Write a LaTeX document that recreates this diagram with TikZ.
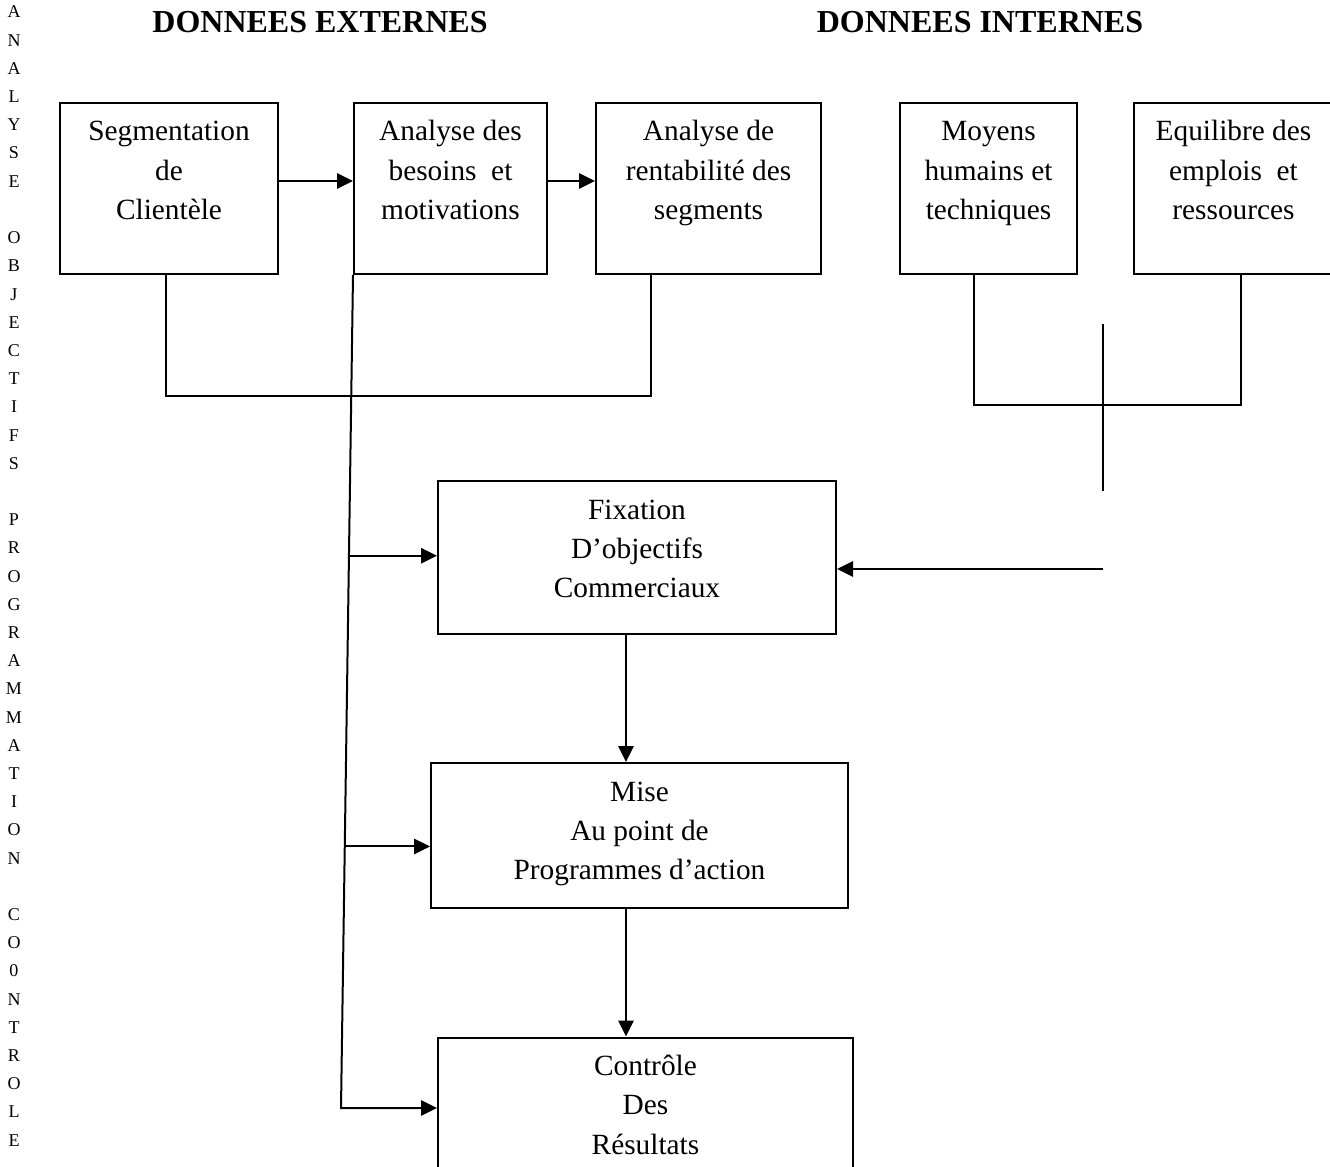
\documentclass[tikz,border=0pt]{standalone}
\usepackage{fontspec}
\setmainfont{Liberation Serif}
\usetikzlibrary{arrows.meta,calc}

% box of fixed size, text set from the top
\newcommand{\cellbox}[3]{\parbox[c][#2][t]{#1}{\centering\vspace*{12.5pt}\rule{0pt}{16pt}\ignorespaces#3\par}}

\begin{document}
\begin{tikzpicture}[x=0.75pt,y=-0.75pt,
  box/.style={draw,line width=1.5pt,inner sep=0pt,font=\fontsize{22}{29.6}\selectfont},
  link/.style={line width=1.5pt},
  arr/.style={link,-{Triangle[length=12pt,width=11.5pt]}},
  title/.style={font=\fontsize{24}{28}\selectfont\bfseries,anchor=base,inner sep=0pt},
  sidech/.style={font=\fontsize{13.5}{15}\selectfont,anchor=base,inner sep=0pt}]
\useasboundingbox (0,0) rectangle (1330,1166);

% headings
\node[title] (ext) at (320,33) {DONNEES EXTERNES};
\node[title] (int) at (980,33) {DONNEES INTERNES};

% vertical caption on the left
\foreach \ch [count=\i from 0] in {A,N,A,L,Y,S,E,-,O,B,J,E,C,T,I,F,S,-,P,R,O,G,R,A,M,M,A,T,I,O,N,-,C,O,0,N,T,R,O,L,E}{
  \if-\ch\else\node[sidech] (side\i) at (14,{18+28.2*\i}) {\ch};\fi
}

% top row
\node[box] (seg) at (169,188.5) {\cellbox{163.5pt}{128.25pt}{Segmentation\\de\\Clientèle}};
\node[box] (besoins) at (450.5,188.5) {\cellbox{144.75pt}{128.25pt}{Analyse des\\besoins\ \ et\\motivations}};
\node[box] (rentab) at (708.5,188.5) {\cellbox{168.75pt}{128.25pt}{Analyse de\\rentabilité des\\segments}};
\node[box] (moyens) at (988.5,188.5) {\cellbox{132.75pt}{128.25pt}{Moyens\\humains et\\techniques}};
\node[box] (equil) at (1233.5,188.5) {\cellbox{149.25pt}{128.25pt}{Equilibre des\\emplois\ \ et\\ressources}};

% central column
\node[box] (fixation) at (637,557.5) {\cellbox{298.5pt}{114.75pt}{Fixation\\D’objectifs\\Commerciaux}};
\node[box] (mise) at (639.5,835.5) {\cellbox{312.75pt}{108.75pt}{Mise\\Au point de\\Programmes d’action}};
\node[box] (controle) at (645.5,1113.5) {\cellbox{311.25pt}{114pt}{Contrôle\\Des\\Résultats}};

% external data chain
\draw[arr] ([yshift=5.6pt]seg.east) -- ([yshift=5.6pt]besoins.west);
\draw[arr] ([yshift=5.6pt]besoins.east) -- ([yshift=5.6pt]rentab.west);
\coordinate (jl) at (166,396);
\coordinate (jr) at (651,396);
\draw[link] (seg.south -| jl) -- (jl) -- (jr) -- (rentab.south -| jr);

% long feed line on the left
\coordinate (fb) at (341,1108);
\draw[arr] (besoins.south west) -- (fb) -- (fb -| controle.west);
\draw[arr] ($(besoins.south west)!0.337!(fb)$) coordinate (f1) -- (f1 -| fixation.west);
\draw[arr] ($(besoins.south west)!0.686!(fb)$) coordinate (f2) -- (f2 -| mise.west);

% central flow
\coordinate (cx) at (626,0);
\draw[arr] (fixation.south -| cx) -- (mise.north -| cx);
\draw[arr] (mise.south -| cx) -- (controle.north -| cx);

% internal data
\coordinate (rl) at (974,405);
\coordinate (rr) at (1241,405);
\draw[link] (moyens.south -| rl) -- (rl) -- (rr) -- (equil.south -| rr);
\coordinate (vt) at (1103,324);
\coordinate (vb) at (1103,491);
\draw[link] (vt) -- (vb);
\coordinate (ia) at (1103,569);
\draw[arr] (ia) -- (ia -| fixation.east);
\end{tikzpicture}
\end{document}
